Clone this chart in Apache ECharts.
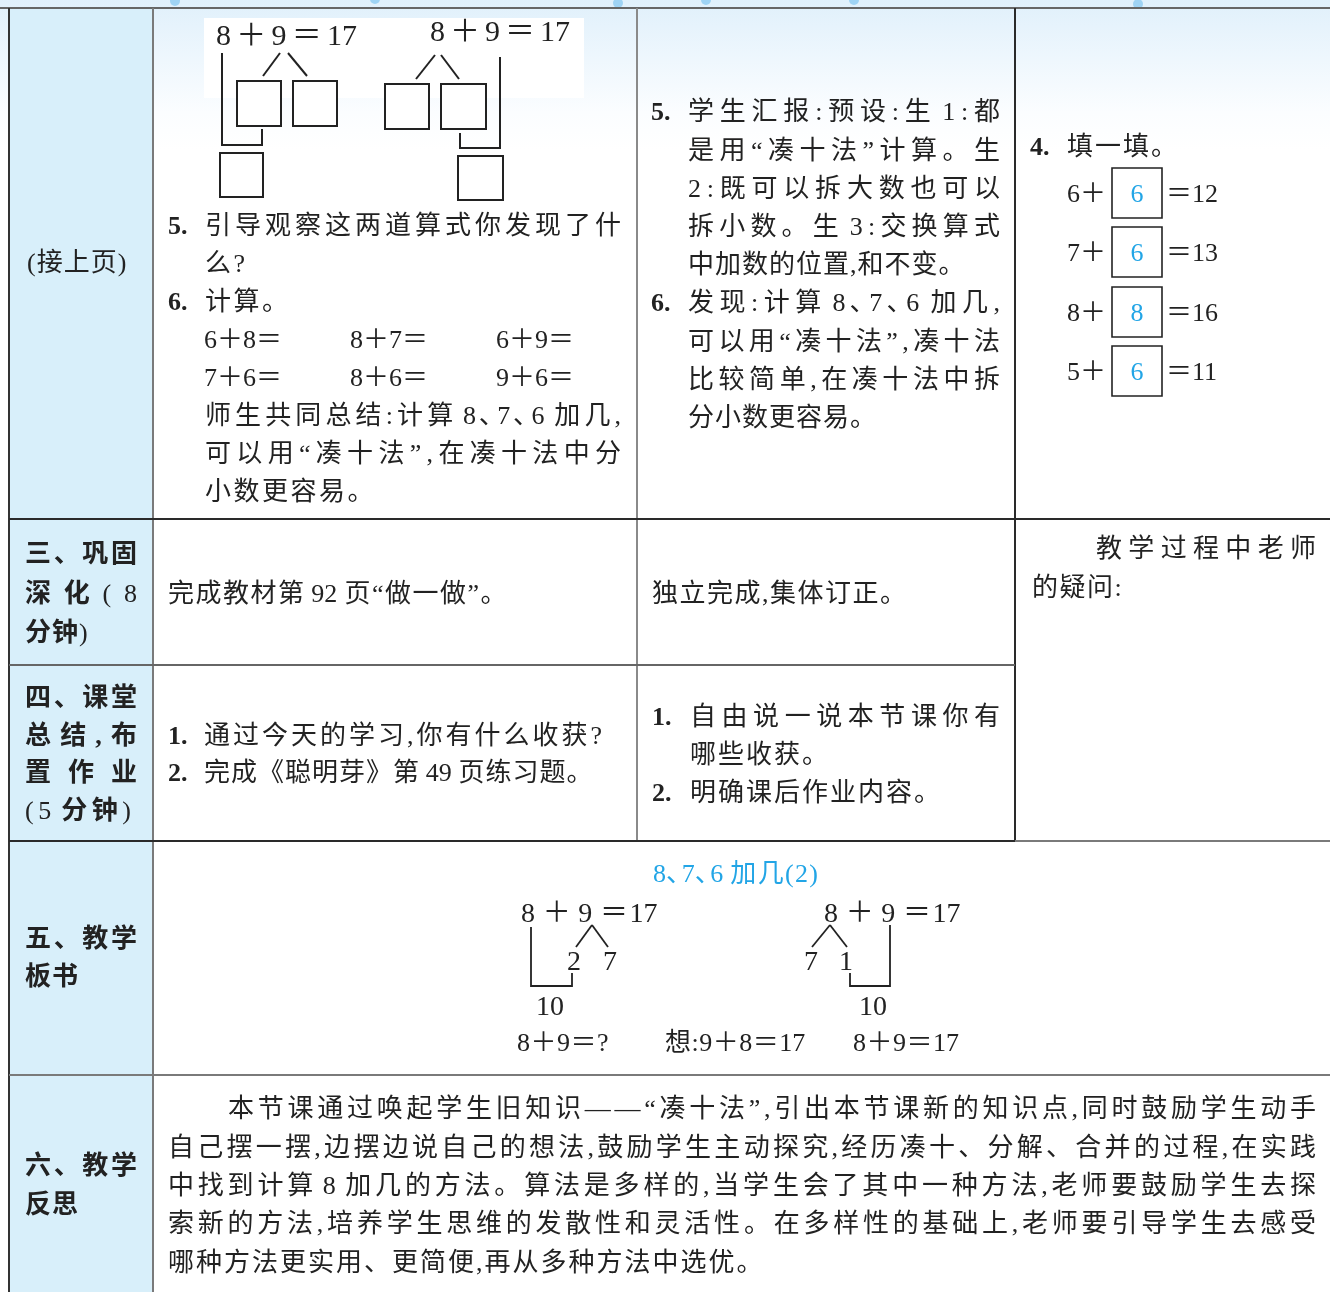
<!DOCTYPE html>
<html><head><meta charset="utf-8">
<script src="https://cdn.jsdelivr.net/npm/echarts@6/dist/echarts.min.js"></script>
<style>html,body{margin:0;padding:0;background:#fff}#c{width:1330px;height:1292px}</style>
</head><body><div id="c"></div>
<script>
// ================= CONTENT (text only) =================
const stageContinued = ['(接上页)'];
const stage3Label = ['三、巩固', '深化(8', '分钟)'];
const stage4Label = ['四、课堂', '总结,布', '置作业', '(5 分钟)'];
const stage5Label = ['五、教学', '板书'];
const stage6Label = ['六、教学', '反思'];

const diagramEquations = ['8＋9＝17', '8＋9＝17'];
const row1Teacher = [
  ['5.', '引导观察这两道算式你发现了什'],
  ['', '么?'],
  ['6.', '计算。'],
  ['', '师生共同总结:计算 8、7、6 加几,'],
  ['', '可以用“凑十法”,在凑十法中分'],
  ['', '小数更容易。']
];
const calcExercises = ['6＋8＝', '8＋7＝', '6＋9＝', '7＋6＝', '8＋6＝', '9＋6＝'];
const row1Student = [
  ['5.', '学生汇报:预设:生 1:都'],
  ['', '是用“凑十法”计算。生'],
  ['', '2:既可以拆大数也可以'],
  ['', '拆小数。生 3:交换算式'],
  ['', '中加数的位置,和不变。'],
  ['6.', '发现:计算 8、7、6 加几,'],
  ['', '可以用“凑十法”,凑十法'],
  ['', '比较简单,在凑十法中拆'],
  ['', '分小数更容易。']
];
const fillTitle = ['4.', '填一填。'];
const fillAddends = ['6＋', '7＋', '8＋', '5＋'];
const fillAnswers = ['6', '6', '8', '6'];
const fillSums = ['＝12', '＝13', '＝16', '＝11'];

const row2Teacher = ['完成教材第 92 页“做一做”。'];
const row2Student = ['独立完成,集体订正。'];
const teacherNotes = ['教学过程中老师', '的疑问:'];

const row3Teacher = [['1.', '通过今天的学习,你有什么收获?'], ['2.', '完成《聪明芽》第 49 页练习题。']];
const row3Student = [['1.', '自由说一说本节课你有'], ['', '哪些收获。'], ['2.', '明确课后作业内容。']];

const boardTitle = ['8、7、6 加几(2)'];
const boardEquations = ['8 ＋ 9 ＝17', '8 ＋ 9 ＝17'];
const boardLeftParts = ['2', '7'];
const boardRightParts = ['7', '1'];
const boardTens = ['10', '10'];
const boardSummary = ['8＋9＝?', '想:9＋8＝17', '8＋9＝17'];

const reflection = [
  '本节课通过唤起学生旧知识——“凑十法”,引出本节课新的知识点,同时鼓励学生动手',
  '自己摆一摆,边摆边说自己的想法,鼓励学生主动探究,经历凑十、分解、合并的过程,在实践',
  '中找到计算 8 加几的方法。算法是多样的,当学生会了其中一种方法,老师要鼓励学生去探',
  '索新的方法,培养学生思维的发散性和灵活性。在多样性的基础上,老师要引导学生去感受',
  '哪种方法更实用、更简便,再从多种方法中选优。'
];

// ================= LAYOUT / DRAWING =================
const FAM = '"Liberation Serif", "Noto Sans CJK SC", serif';
const INK = '#222';
const BLUE = '#22a5e6';
const DY = 2.5; // visual baseline correction for text
const ctx = document.createElement('canvas').getContext('2d');
const els = [];

function tokenize(s) {
  const t = []; let i = 0;
  while (i < s.length) {
    if (/[0-9A-Za-z.]/.test(s[i])) {
      let j = i; while (j < s.length && /[0-9A-Za-z.]/.test(s[j])) j++;
      t.push(s.slice(i, j)); i = j;
    } else { t.push(s[i]); i++; }
  }
  return t;
}
function textEl(s, x, y, o) {
  return {
    type: 'text', x: x, y: y + DY, silent: true, z: 10,
    style: {
      text: s, fontSize: o.size, fontFamily: o.family || FAM, fontWeight: o.weight || 'normal',
      fill: o.color || INK, align: o.align || 'left', verticalAlign: 'middle',
      textAlign: o.align || 'left', textVerticalAlign: 'middle'
    }
  };
}
// place a line token by token: justified to x1, or natural with spacing
function line(s, x0, y, o) {
  const size = o.size || 26, weight = o.weight || 'normal', fam = o.family || FAM;
  const toks = tokenize(s);
  const items = [];
  let pending = 0;
  toks.forEach((t, i) => {
    if (t === ' ') { pending += size * 0.22; return; }
    // in bold labels, digits and brackets stay regular
    const wt = (o.latinNormal && /^[0-9()]+$/.test(t)) ? 'normal' : weight;
    ctx.font = wt + ' ' + size + 'px ' + fam;
    let w = ctx.measureText(t).width;
    let shift = 0;
    // enumeration comma between digits is set narrow
    if (t === '、' && i > 0 && /[0-9]$/.test(toks[i - 1])) { shift = -size * 0.05; w = size * 0.5; }
    items.push({ t: t, w: w, gap: pending, shift: shift, wt: wt });
    pending = 0;
  });
  const sum = items.reduce((a, b) => a + b.w + b.gap, 0);
  let extra = (o.spacing == null ? 2.5 : o.spacing);
  if (o.x1 != null && items.length > 1) extra = (o.x1 - x0 - sum) / (items.length - 1);
  let x = x0;
  items.forEach((it) => {
    x += it.gap;
    els.push(textEl(it.t, x + it.shift, y, { size: size, weight: it.wt, color: o.color, family: fam }));
    x += it.w + extra;
  });
}
function seg(x1, y1, x2, y2, color, lw) {
  els.push({ type: 'line', silent: true, z: 5, shape: { x1: x1, y1: y1, x2: x2, y2: y2 },
    style: { stroke: color || INK, lineWidth: lw || 2 } });
}
function poly(pts, lw) {
  els.push({ type: 'polyline', silent: true, z: 5, shape: { points: pts },
    style: { stroke: INK, lineWidth: lw || 2, fill: null } });
}
function box(x, y, w, h, lw) {
  els.push({ type: 'rect', silent: true, z: 5, shape: { x: x, y: y, width: w, height: h },
    style: { stroke: INK, lineWidth: lw || 2, fill: '#fff' } });
}

// --- backgrounds ---
els.push({ type: 'rect', silent: true, z: 0, shape: { x: 0, y: 0, width: 1330, height: 150 },
  style: { fill: new echarts.graphic.LinearGradient(0, 0, 0, 1, [
    { offset: 0, color: '#e0f0fb' }, { offset: 0.75, color: '#fbfdff' }, { offset: 1, color: '#ffffff' }]) } });
[[175, 1], [375, -1], [618, 3], [706, 0], [854, 0], [1138, 4]].forEach(p => {
  els.push({ type: 'circle', silent: true, z: 1, shape: { cx: p[0], cy: p[1], r: 5 }, style: { fill: '#9fd3f4' } });
});
els.push({ type: 'rect', silent: true, z: 1, shape: { x: 9, y: 8, width: 144, height: 1290 }, style: { fill: '#d8effa' } });
els.push({ type: 'rect', silent: true, z: 1, shape: { x: 204, y: 18, width: 380, height: 80 }, style: { fill: '#ffffff' } });

// --- table rules ---
const DARK = '#2a2a2a', GREY = '#7a7a7a';
seg(0, 8, 1330, 8, '#666');
seg(9, 8, 9, 1292, '#333');
seg(153, 8, 153, 1292, GREY);
seg(637, 8, 637, 841, '#8a8a8a');
seg(1015, 8, 1015, 841, DARK);
seg(9, 519, 1330, 519, DARK);
seg(9, 665, 1015, 665, '#666');
seg(9, 841, 1015, 841, DARK);
seg(1015, 841, 1330, 841, GREY);
seg(9, 1075, 1330, 1075, GREY);

// --- column 1 stage labels ---
line(stageContinued[0], 27, 262, { spacing: 1 });
const LB = { weight: 'bold', size: 26, latinNormal: true };
line(stage3Label[0], 25, 553, Object.assign({ x1: 137 }, LB));
line(stage3Label[1], 25, 593, Object.assign({ x1: 137 }, LB));
line(stage3Label[2], 25, 632, Object.assign({ spacing: 1 }, LB));
line(stage4Label[0], 25, 697, Object.assign({ x1: 137 }, LB));
line(stage4Label[1], 25, 735, Object.assign({ x1: 137 }, LB));
line(stage4Label[2], 25, 772, Object.assign({ x1: 137 }, LB));
line(stage4Label[3], 25, 810, Object.assign({ x1: 131 }, LB));
line(stage5Label[0], 25, 938, Object.assign({ x1: 137 }, LB));
line(stage5Label[1], 25, 976, Object.assign({ spacing: 1 }, LB));
line(stage6Label[0], 25, 1165, Object.assign({ x1: 137 }, LB));
line(stage6Label[1], 25, 1204, Object.assign({ spacing: 1 }, LB));

// --- top diagrams (row 1, column 2) ---
line(diagramEquations[0], 216, 35, { size: 30, x1: 357 });
line(diagramEquations[1], 430, 31, { size: 30, x1: 570 });
seg(280, 53, 263, 76); seg(288, 53, 307, 76);
box(237, 81, 44, 45); box(293, 81, 44, 45);
poly([[222, 53], [222, 145], [262, 145], [262, 129]]);
box(220, 153, 43, 44);
seg(435, 55, 416, 79); seg(441, 55, 459, 79);
box(385, 84, 44, 45); box(441, 84, 45, 45);
poly([[500, 57], [500, 148], [460, 148], [460, 133]]);
box(458, 156, 45, 44);

// --- row 1 teacher text ---
const r1tY = [225, 263, 301, 415, 453, 491];
const r1tJust = [true, false, false, true, true, false];
row1Teacher.forEach((l, i) => {
  if (l[0]) line(l[0], 168, r1tY[i], { weight: 'bold', spacing: 0 });
  line(l[1], 205, r1tY[i], r1tJust[i] ? { x1: 621 } : {});
});
calcExercises.forEach((e, i) => {
  line(e, [204, 350, 496][i % 3], [339, 377][Math.floor(i / 3)], { spacing: 0 });
});

// --- row 1 student text ---
const r1sJust = [true, true, true, true, false, true, true, true, false];
row1Student.forEach((l, i) => {
  const y = 111 + i * 38.2;
  if (l[0]) line(l[0], 651, y, { weight: 'bold', spacing: 0 });
  line(l[1], 688, y, r1sJust[i] ? { x1: 1000 } : { spacing: 1 });
});

// --- row 1 column 4 ---
line(fillTitle[0], 1030, 146, { weight: 'bold', spacing: 0 });
line(fillTitle[1], 1067, 146, { spacing: 2 });
const fillY = [193, 252, 312, 371];
fillAddends.forEach((a, i) => {
  line(a, 1067, fillY[i], { spacing: 0 });
  box(1112, fillY[i] - 25, 50, 50, 1.6);
  els.push(textEl(fillAnswers[i], 1137, fillY[i], { size: 26, color: BLUE, align: 'center' }));
  line(fillSums[i], 1166, fillY[i], { spacing: 0 });
});

// --- row 2 ---
line(row2Teacher[0], 168, 593, { spacing: 1.5 });
line(row2Student[0], 652, 593, { spacing: 1.5 });
line(teacherNotes[0], 1096, 548, { x1: 1316 });
line(teacherNotes[1], 1032, 587, { spacing: 1.5 });

// --- row 3 ---
const r3tY = [735, 772];
const r3tSp = [3, 1];
row3Teacher.forEach((l, i) => {
  line(l[0], 168, r3tY[i], { weight: 'bold', spacing: 0 });
  line(l[1], 204, r3tY[i], { spacing: r3tSp[i] });
});
const r3sY = [716, 754, 792];
row3Student.forEach((l, i) => {
  if (l[0]) line(l[0], 652, r3sY[i], { weight: 'bold', spacing: 0 });
  line(l[1], 690, r3sY[i], i === 0 ? { x1: 1000 } : { spacing: 2 });
});

// --- row 4 blackboard ---
line(boardTitle[0], 653, 873, { color: BLUE, x1: 818 });
line(boardEquations[0], 521, 912, { size: 28, spacing: 1.5 });
line(boardEquations[1], 824, 912, { size: 28, spacing: 1.5 });
seg(592, 925, 576, 947, INK, 1.8); seg(592, 925, 608, 947, INK, 1.8);
poly([[531, 927], [531, 986], [572, 986], [572, 973]], 1.8);
line(boardLeftParts[0], 567, 960, { size: 28 });
line(boardLeftParts[1], 603, 960, { size: 28 });
seg(830, 925, 812, 947, INK, 1.8); seg(830, 925, 847, 947, INK, 1.8);
poly([[890, 925], [890, 986], [850, 986], [850, 973]], 1.8);
line(boardRightParts[0], 804, 960, { size: 28 });
line(boardRightParts[1], 839, 960, { size: 28 });
line(boardTens[0], 536, 1005, { size: 28, spacing: 0 });
line(boardTens[1], 859, 1005, { size: 28, spacing: 0 });
line(boardSummary[0], 517, 1042, { spacing: 0.5 });
line(boardSummary[1], 665, 1042, { spacing: 0.5 });
line(boardSummary[2], 853, 1042, { spacing: 0.5 });

// --- row 5 reflection ---
reflection.forEach((s, i) => {
  const y = 1108 + i * 38.3;
  line(s, i === 0 ? 228 : 168, y, i < reflection.length - 1 ? { x1: 1316 } : { spacing: 2 });
});

const chart = echarts.init(document.getElementById('c'), null, { renderer: 'canvas' });
chart.setOption({ animation: false, backgroundColor: '#ffffff', graphic: { elements: els } });
</script></body></html>
